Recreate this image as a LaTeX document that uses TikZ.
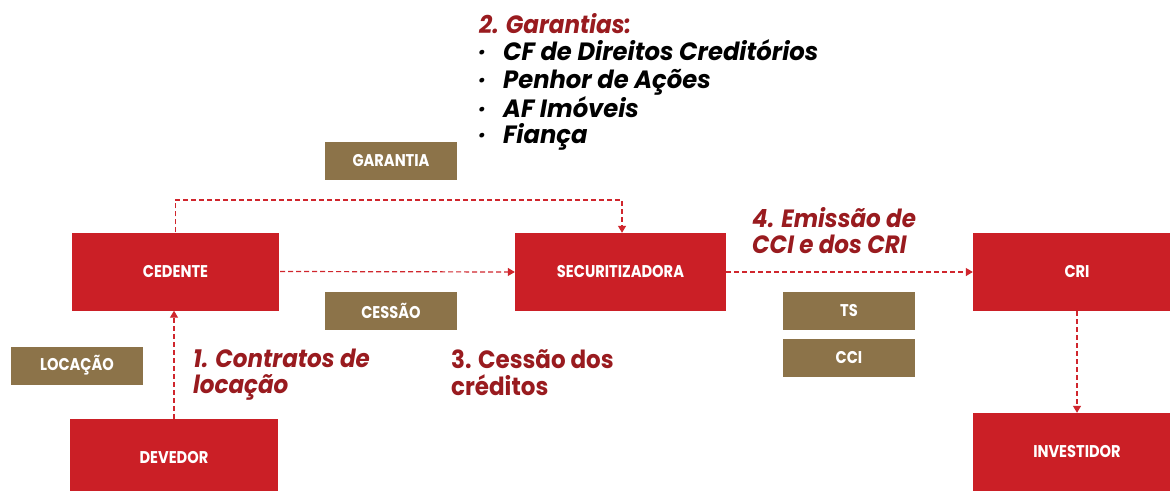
\documentclass[tikz,border=0pt]{standalone}
\usepackage{fontspec}
\setmainfont{Poppins}
\newfontfamily\lblfont[FakeStretch=0.92]{Poppins}
\newfontfamily\bulfont[FakeStretch=0.97]{Poppins}
\newfontfamily\boxfont[FakeStretch=0.86]{Poppins}
\usetikzlibrary{arrows.meta}
\definecolor{boxred}{HTML}{CB1F26}
\definecolor{boxbrown}{HTML}{8C7349}
\definecolor{txtred}{HTML}{991B1F}
\definecolor{linered}{HTML}{D0262D}
\tikzset{
  redbox/.style={fill=boxred, draw=none, minimum width=207pt, minimum height=78pt,
     text=white, font=\boxfont\bfseries\fontsize{17}{17}\selectfont, inner sep=0pt},
  tagbox/.style={fill=boxbrown, draw=none, minimum width=132pt, minimum height=38pt,
     text=white, font=\boxfont\bfseries\fontsize{17}{17}\selectfont, inner sep=0pt},
  flow/.style={draw=linered, line width=1.2pt, dash pattern=on 5pt off 3pt,
     -{Triangle[width=8pt,length=7pt]}},
  lbl/.style={anchor=base west, inner sep=0pt, text=txtred,
     font=\lblfont\bfseries\fontsize{25}{25}\selectfont},
  ilbl/.style={lbl, font=\lblfont\bfseries\itshape\fontsize{25}{25}\selectfont},
  blk/.style={anchor=base west, inner sep=0pt, text=black,
     font=\bulfont\bfseries\itshape\fontsize{25}{25}\selectfont},
}
\begin{document}
\begin{tikzpicture}[x=1pt,y=-1pt]
\useasboundingbox[fill=white] (0,0) rectangle (1170,490);
% red boxes
\node[redbox, minimum width=207pt] (ced) at (175.5,271.5) {CEDENTE};
\node[redbox, minimum width=208pt] (dev) at (174,458) {DEVEDOR};
\node[redbox, minimum width=211pt] (sec) at (620.5,272) {SECURITIZADORA};
\node[redbox, minimum width=208pt] (cri) at (1077,272) {CRI};
\node[redbox, minimum width=208pt] (inv) at (1077,452) {INVESTIDOR};
% brown tags
\node[tagbox] (gar) at (391,161) {GARANTIA};
\node[tagbox] (ces) at (391,311) {CESSÃO};
\node[tagbox] (loc) at (77,365.5) {LOCAÇÃO};
\node[tagbox] (ts) at (849,311) {TS};
\node[tagbox] (cci) at (849,358) {CCI};
% connectors
\coordinate (c1) at (ced.north |- 0,200);
\coordinate (c2) at (622,200);
\draw[flow] (ced.north) -- (c1) -- (c2) -- (c2 |- sec.north);
\draw[flow] ([xshift=1pt]ced.east) -- (sec.west);
\draw[flow] (dev.north) -- (dev.north |- ced.south);
\draw[flow] (sec.east) -- (cri.west);
\draw[flow] (cri.south) -- (inv.north);
% labels
\node[ilbl] (l2) at (479,33) {2. Garantias:};
\node[blk] (b1d) at (479,60) {·};
\node[blk] (b1) at (503,60) {CF de Direitos Creditórios};
\node[blk] (b2d) at (479,88) {·};
\node[blk] (b2) at (503,88) {Penhor de Ações};
\node[blk] (b3d) at (479,117) {·};
\node[blk] (b3) at (503,117) {AF Imóveis};
\node[blk] (b4d) at (479,143) {·};
\node[blk] (b4) at (503,143) {Fiança};
\node[ilbl] (l1a) at (193,367) {1. Contratos de};
\node[ilbl] (l1b) at (193,393) {locação};
\node[lbl] (l3a) at (451,368) {3. Cessão dos};
\node[lbl] (l3b) at (451,395) {créditos};
\node[ilbl] (l4a) at (752,227) {4. Emissão de};
\node[ilbl] (l4b) at (752,253) {CCI e dos CRI};
\end{tikzpicture}
\end{document}
